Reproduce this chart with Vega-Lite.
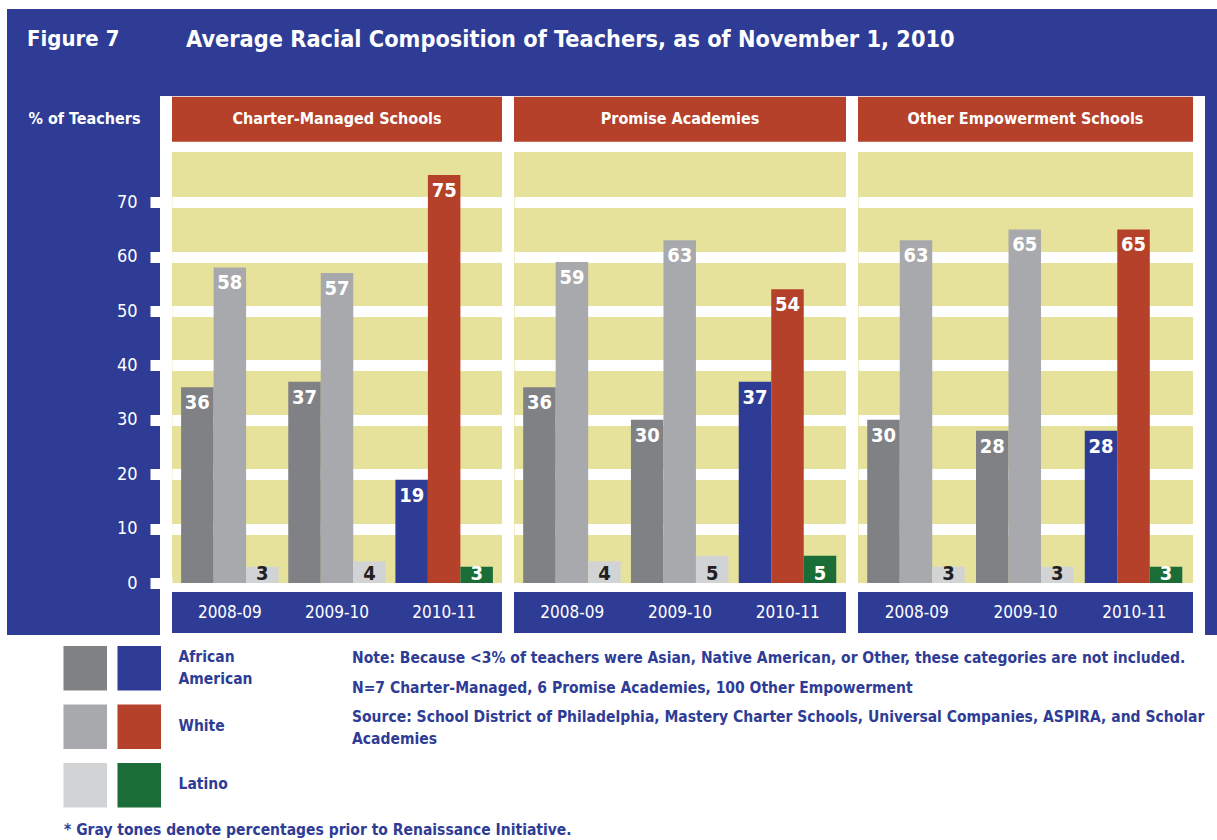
{
  "$schema": "https://vega.github.io/schema/vega-lite/v6.json",
  "background": "white",
  "padding": {"left": 7, "top": 9, "right": 0, "bottom": 0},
  "bounds": "full",
  "spacing": 0,
  "config": {
    "view": {"stroke": null},
    "font": "Liberation Sans Narrow, DejaVu Sans Condensed, sans-serif"
  },
  "datasets": {
    "teachers": [
      {"panel": "Charter-Managed Schools", "year": "2008-09", "period": "Prior", "race": "African American", "value": 36},
      {"panel": "Charter-Managed Schools", "year": "2008-09", "period": "Prior", "race": "White", "value": 58},
      {"panel": "Charter-Managed Schools", "year": "2008-09", "period": "Prior", "race": "Latino", "value": 3},
      {"panel": "Charter-Managed Schools", "year": "2009-10", "period": "Prior", "race": "African American", "value": 37},
      {"panel": "Charter-Managed Schools", "year": "2009-10", "period": "Prior", "race": "White", "value": 57},
      {"panel": "Charter-Managed Schools", "year": "2009-10", "period": "Prior", "race": "Latino", "value": 4},
      {"panel": "Charter-Managed Schools", "year": "2010-11", "period": "Renaissance", "race": "African American", "value": 19},
      {"panel": "Charter-Managed Schools", "year": "2010-11", "period": "Renaissance", "race": "White", "value": 75},
      {"panel": "Charter-Managed Schools", "year": "2010-11", "period": "Renaissance", "race": "Latino", "value": 3},
      {"panel": "Promise Academies", "year": "2008-09", "period": "Prior", "race": "African American", "value": 36},
      {"panel": "Promise Academies", "year": "2008-09", "period": "Prior", "race": "White", "value": 59},
      {"panel": "Promise Academies", "year": "2008-09", "period": "Prior", "race": "Latino", "value": 4},
      {"panel": "Promise Academies", "year": "2009-10", "period": "Prior", "race": "African American", "value": 30},
      {"panel": "Promise Academies", "year": "2009-10", "period": "Prior", "race": "White", "value": 63},
      {"panel": "Promise Academies", "year": "2009-10", "period": "Prior", "race": "Latino", "value": 5},
      {"panel": "Promise Academies", "year": "2010-11", "period": "Renaissance", "race": "African American", "value": 37},
      {"panel": "Promise Academies", "year": "2010-11", "period": "Renaissance", "race": "White", "value": 54},
      {"panel": "Promise Academies", "year": "2010-11", "period": "Renaissance", "race": "Latino", "value": 5},
      {"panel": "Other Empowerment Schools", "year": "2008-09", "period": "Prior", "race": "African American", "value": 30},
      {"panel": "Other Empowerment Schools", "year": "2008-09", "period": "Prior", "race": "White", "value": 63},
      {"panel": "Other Empowerment Schools", "year": "2008-09", "period": "Prior", "race": "Latino", "value": 3},
      {"panel": "Other Empowerment Schools", "year": "2009-10", "period": "Prior", "race": "African American", "value": 28},
      {"panel": "Other Empowerment Schools", "year": "2009-10", "period": "Prior", "race": "White", "value": 65},
      {"panel": "Other Empowerment Schools", "year": "2009-10", "period": "Prior", "race": "Latino", "value": 3},
      {"panel": "Other Empowerment Schools", "year": "2010-11", "period": "Renaissance", "race": "African American", "value": 28},
      {"panel": "Other Empowerment Schools", "year": "2010-11", "period": "Renaissance", "race": "White", "value": 65},
      {"panel": "Other Empowerment Schools", "year": "2010-11", "period": "Renaissance", "race": "Latino", "value": 3}
    ],
    "key": [
      {"race": "African American", "period": "Prior"},
      {"race": "African American", "period": "Renaissance"},
      {"race": "White", "period": "Prior"},
      {"race": "White", "period": "Renaissance"},
      {"race": "Latino", "period": "Prior"},
      {"race": "Latino", "period": "Renaissance"}
    ],
    "notes": [
      {"order": 1, "text": "Note: Because <3% of teachers were Asian, Native American, or Other, these categories are not included."},
      {"order": 2, "text": "N=7 Charter-Managed, 6 Promise Academies, 100 Other Empowerment"},
      {"order": 3, "text": "Source: School District of Philadelphia, Mastery Charter Schools, Universal Companies, ASPIRA, and Scholar\nAcademies"}
    ]
  },
  "vconcat": [
    {
      "bounds": "flush",
      "spacing": 0,
      "hconcat": [
        {
          "width": 179, "height": 87,
          "view": {"fill": "#2E3C96", "stroke": null},
          "title": {"text": "Figure 7", "anchor": "start", "frame": "group", "dx": 20, "offset": -42, "fontSize": 22, "fontWeight": "bold", "color": "white"},
          "data": {"values": [{}]},
          "mark": {"type": "point", "opacity": 0}
        },
        {
          "width": 1031, "height": 87,
          "view": {"fill": "#2E3C96", "stroke": null},
          "title": {"text": "Average Racial Composition of Teachers, as of November 1, 2010", "anchor": "start", "frame": "group", "dx": 0, "offset": -43, "fontSize": 23.3, "fontWeight": "bold", "color": "white"},
          "data": {"values": [{}]},
          "mark": {"type": "point", "opacity": 0}
        }
      ]
    },
    {
      "bounds": "flush",
      "spacing": 12,
      "hconcat": [
        {
          "width": 153, "height": 431,
          "data": {"values": [{}]},
          "mark": {"type": "rect", "color": "#2E3C96"},
          "encoding": {
            "x": {"value": 0}, "x2": {"value": "width"},
            "y": {"datum": 89.52, "type": "quantitative", "scale": {"domain": [0, 79.23], "nice": false, "zero": false}, "axis": null},
            "y2": {"datum": -9.56}
          }
        },
        {
          "width": 330, "height": 431,
          "view": {"fill": "#E6E29B", "stroke": null},
          "data": {"name": "teachers"},
          "transform": [{"filter": "datum.panel === 'Charter-Managed Schools'"}],
          "layer": [
            {
              "transform": [{"aggregate": [{"op": "count", "as": "n"}], "groupby": ["panel"]}],
              "layer": [
                {"mark": {"type": "rect", "color": "#B5412A"}, "encoding": {"x": {"value": 0}, "x2": {"value": "width"}, "y": {"datum": 81.1, "type": "quantitative", "scale": {"domain": [0, 79.23], "nice": false, "zero": false}}, "y2": {"datum": 89.4}}},
                {"mark": {"type": "rect", "color": "#2E3C96"}, "encoding": {"x": {"value": 0}, "x2": {"value": "width"}, "y": {"datum": -1.65, "type": "quantitative", "scale": {"domain": [0, 79.23], "nice": false, "zero": false}}, "y2": {"datum": -9.2}}},
                {"mark": {"type": "text", "color": "white", "fontSize": 16, "fontWeight": "bold", "baseline": "middle"}, "encoding": {"y": {"datum": 85.25, "type": "quantitative", "scale": {"domain": [0, 79.23], "nice": false, "zero": false}}, "text": {"field": "panel"}}}
              ]
            },
            {
              "mark": {"type": "bar"},
              "encoding": {
                "x": {"field": "year", "type": "nominal", "scale": {"paddingInner": 0.09, "paddingOuter": 0.085}, "axis": {"title": null, "domain": false, "ticks": false, "tickSize": 0, "labelAngle": 0, "labelColor": "white", "labelFontSize": 17, "labelPadding": 21, "grid": false, "zindex": 1}},
                "xOffset": {"field": "race", "type": "nominal", "sort": ["African American", "White", "Latino"], "scale": {"paddingInner": 0, "paddingOuter": 0}},
                "y": {"field": "value", "type": "quantitative", "scale": {"domain": [0, 79.23], "nice": false, "zero": false},
                  "axis": {"values": [0, 10, 20, 30, 40, 50, 60, 70], "title": "% of Teachers", "titleAngle": 0, "titleAlign": "left", "titleBaseline": "middle", "titleX": -144, "titleY": -34, "titleColor": "white", "titleFontSize": 16, "titleFontWeight": "bold", "domain": false, "ticks": true, "tickColor": "white", "tickWidth": 11, "tickSize": 22, "labelColor": "white", "labelFontSize": 18, "labelPadding": 13, "labelFlush": false, "labelOverlap": false, "grid": true, "gridColor": "white", "gridWidth": 11, "gridOpacity": {"condition": {"test": "datum.value === 0", "value": 0}, "value": 1}, "zindex": 0}},
                "color": {
                  "condition": [
                    {"test": "datum.period === 'Prior' && datum.race === 'African American'", "value": "#808184"},
                    {"test": "datum.period === 'Prior' && datum.race === 'White'", "value": "#A8A9AC"},
                    {"test": "datum.period === 'Prior' && datum.race === 'Latino'", "value": "#D2D3D5"}
                  ],
                  "field": "race", "type": "nominal", "scale": {"domain": ["African American", "White", "Latino"], "range": ["#2E3C96", "#B5412A", "#1B6D37"]}, "legend": null
                }
              }
            },
            {
              "transform": [{"filter": "datum.value >= 10"}],
              "mark": {"type": "text", "baseline": "top", "dy": 6, "fontSize": 20, "fontWeight": "bold", "color": "white"},
              "encoding": {
                "x": {"field": "year", "type": "nominal"},
                "xOffset": {"field": "race", "type": "nominal", "sort": ["African American", "White", "Latino"]},
                "y": {"field": "value", "type": "quantitative", "scale": {"domain": [0, 79.23], "nice": false, "zero": false}},
                "text": {"field": "value", "type": "quantitative"}
              }
            },
            {
              "transform": [{"filter": "datum.value < 10"}],
              "mark": {"type": "text", "baseline": "alphabetic", "dy": -3, "fontSize": 20, "fontWeight": "bold"},
              "encoding": {
                "x": {"field": "year", "type": "nominal"},
                "xOffset": {"field": "race", "type": "nominal", "sort": ["African American", "White", "Latino"]},
                "y": {"datum": 0, "type": "quantitative", "scale": {"domain": [0, 79.23], "nice": false, "zero": false}},
                "text": {"field": "value", "type": "quantitative"},
                "color": {"condition": {"test": "datum.period === 'Prior'", "value": "#231F20"}, "value": "white"}
              }
            }
          ]
        },
        {
          "width": 332, "height": 431,
          "view": {"fill": "#E6E29B", "stroke": null},
          "data": {"name": "teachers"},
          "transform": [{"filter": "datum.panel === 'Promise Academies'"}],
          "layer": [
            {
              "transform": [{"aggregate": [{"op": "count", "as": "n"}], "groupby": ["panel"]}],
              "layer": [
                {"mark": {"type": "rect", "color": "#B5412A"}, "encoding": {"x": {"value": 0}, "x2": {"value": "width"}, "y": {"datum": 81.1, "type": "quantitative", "scale": {"domain": [0, 79.23], "nice": false, "zero": false}}, "y2": {"datum": 89.4}}},
                {"mark": {"type": "rect", "color": "#2E3C96"}, "encoding": {"x": {"value": 0}, "x2": {"value": "width"}, "y": {"datum": -1.65, "type": "quantitative", "scale": {"domain": [0, 79.23], "nice": false, "zero": false}}, "y2": {"datum": -9.2}}},
                {"mark": {"type": "text", "color": "white", "fontSize": 16, "fontWeight": "bold", "baseline": "middle"}, "encoding": {"y": {"datum": 85.25, "type": "quantitative", "scale": {"domain": [0, 79.23], "nice": false, "zero": false}}, "text": {"field": "panel"}}}
              ]
            },
            {
              "mark": {"type": "bar"},
              "encoding": {
                "x": {"field": "year", "type": "nominal", "scale": {"paddingInner": 0.09, "paddingOuter": 0.085}, "axis": {"title": null, "domain": false, "ticks": false, "tickSize": 0, "labelAngle": 0, "labelColor": "white", "labelFontSize": 17, "labelPadding": 21, "grid": false, "zindex": 1}},
                "xOffset": {"field": "race", "type": "nominal", "sort": ["African American", "White", "Latino"], "scale": {"paddingInner": 0, "paddingOuter": 0}},
                "y": {"field": "value", "type": "quantitative", "scale": {"domain": [0, 79.23], "nice": false, "zero": false},
                  "axis": {"values": [0, 10, 20, 30, 40, 50, 60, 70], "title": null, "domain": false, "ticks": false, "labels": false, "grid": true, "gridColor": "white", "gridWidth": 11, "gridOpacity": {"condition": {"test": "datum.value === 0", "value": 0}, "value": 1}, "zindex": 0}},
                "color": {
                  "condition": [
                    {"test": "datum.period === 'Prior' && datum.race === 'African American'", "value": "#808184"},
                    {"test": "datum.period === 'Prior' && datum.race === 'White'", "value": "#A8A9AC"},
                    {"test": "datum.period === 'Prior' && datum.race === 'Latino'", "value": "#D2D3D5"}
                  ],
                  "field": "race", "type": "nominal", "scale": {"domain": ["African American", "White", "Latino"], "range": ["#2E3C96", "#B5412A", "#1B6D37"]}, "legend": null
                }
              }
            },
            {
              "transform": [{"filter": "datum.value >= 10"}],
              "mark": {"type": "text", "baseline": "top", "dy": 6, "fontSize": 20, "fontWeight": "bold", "color": "white"},
              "encoding": {
                "x": {"field": "year", "type": "nominal"},
                "xOffset": {"field": "race", "type": "nominal", "sort": ["African American", "White", "Latino"]},
                "y": {"field": "value", "type": "quantitative", "scale": {"domain": [0, 79.23], "nice": false, "zero": false}},
                "text": {"field": "value", "type": "quantitative"}
              }
            },
            {
              "transform": [{"filter": "datum.value < 10"}],
              "mark": {"type": "text", "baseline": "alphabetic", "dy": -3, "fontSize": 20, "fontWeight": "bold"},
              "encoding": {
                "x": {"field": "year", "type": "nominal"},
                "xOffset": {"field": "race", "type": "nominal", "sort": ["African American", "White", "Latino"]},
                "y": {"datum": 0, "type": "quantitative", "scale": {"domain": [0, 79.23], "nice": false, "zero": false}},
                "text": {"field": "value", "type": "quantitative"},
                "color": {"condition": {"test": "datum.period === 'Prior'", "value": "#231F20"}, "value": "white"}
              }
            }
          ]
        },
        {
          "width": 335, "height": 431,
          "view": {"fill": "#E6E29B", "stroke": null},
          "data": {"name": "teachers"},
          "transform": [{"filter": "datum.panel === 'Other Empowerment Schools'"}],
          "layer": [
            {
              "transform": [{"aggregate": [{"op": "count", "as": "n"}], "groupby": ["panel"]}],
              "layer": [
                {"mark": {"type": "rect", "color": "#B5412A"}, "encoding": {"x": {"value": 0}, "x2": {"value": "width"}, "y": {"datum": 81.1, "type": "quantitative", "scale": {"domain": [0, 79.23], "nice": false, "zero": false}}, "y2": {"datum": 89.4}}},
                {"mark": {"type": "rect", "color": "#2E3C96"}, "encoding": {"x": {"value": 0}, "x2": {"value": "width"}, "y": {"datum": -1.65, "type": "quantitative", "scale": {"domain": [0, 79.23], "nice": false, "zero": false}}, "y2": {"datum": -9.2}}},
                {"mark": {"type": "text", "color": "white", "fontSize": 16, "fontWeight": "bold", "baseline": "middle"}, "encoding": {"y": {"datum": 85.25, "type": "quantitative", "scale": {"domain": [0, 79.23], "nice": false, "zero": false}}, "text": {"field": "panel"}}}
              ]
            },
            {
              "mark": {"type": "bar"},
              "encoding": {
                "x": {"field": "year", "type": "nominal", "scale": {"paddingInner": 0.09, "paddingOuter": 0.085}, "axis": {"title": null, "domain": false, "ticks": false, "tickSize": 0, "labelAngle": 0, "labelColor": "white", "labelFontSize": 17, "labelPadding": 21, "grid": false, "zindex": 1}},
                "xOffset": {"field": "race", "type": "nominal", "sort": ["African American", "White", "Latino"], "scale": {"paddingInner": 0, "paddingOuter": 0}},
                "y": {"field": "value", "type": "quantitative", "scale": {"domain": [0, 79.23], "nice": false, "zero": false},
                  "axis": {"values": [0, 10, 20, 30, 40, 50, 60, 70], "title": null, "domain": false, "ticks": false, "labels": false, "grid": true, "gridColor": "white", "gridWidth": 11, "gridOpacity": {"condition": {"test": "datum.value === 0", "value": 0}, "value": 1}, "zindex": 0}},
                "color": {
                  "condition": [
                    {"test": "datum.period === 'Prior' && datum.race === 'African American'", "value": "#808184"},
                    {"test": "datum.period === 'Prior' && datum.race === 'White'", "value": "#A8A9AC"},
                    {"test": "datum.period === 'Prior' && datum.race === 'Latino'", "value": "#D2D3D5"}
                  ],
                  "field": "race", "type": "nominal", "scale": {"domain": ["African American", "White", "Latino"], "range": ["#2E3C96", "#B5412A", "#1B6D37"]}, "legend": null
                }
              }
            },
            {
              "transform": [{"filter": "datum.value >= 10"}],
              "mark": {"type": "text", "baseline": "top", "dy": 6, "fontSize": 20, "fontWeight": "bold", "color": "white"},
              "encoding": {
                "x": {"field": "year", "type": "nominal"},
                "xOffset": {"field": "race", "type": "nominal", "sort": ["African American", "White", "Latino"]},
                "y": {"field": "value", "type": "quantitative", "scale": {"domain": [0, 79.23], "nice": false, "zero": false}},
                "text": {"field": "value", "type": "quantitative"}
              }
            },
            {
              "transform": [{"filter": "datum.value < 10"}],
              "mark": {"type": "text", "baseline": "alphabetic", "dy": -3, "fontSize": 20, "fontWeight": "bold"},
              "encoding": {
                "x": {"field": "year", "type": "nominal"},
                "xOffset": {"field": "race", "type": "nominal", "sort": ["African American", "White", "Latino"]},
                "y": {"datum": 0, "type": "quantitative", "scale": {"domain": [0, 79.23], "nice": false, "zero": false}},
                "text": {"field": "value", "type": "quantitative"},
                "color": {"condition": {"test": "datum.period === 'Prior'", "value": "#231F20"}, "value": "white"}
              }
            }
          ]
        },
        {
          "width": 12, "height": 431,
          "data": {"values": [{}]},
          "mark": {"type": "rect", "color": "#2E3C96"},
          "encoding": {
            "x": {"value": 0}, "x2": {"value": "width"},
            "y": {"datum": 89.52, "type": "quantitative", "scale": {"domain": [0, 79.23], "nice": false, "zero": false}, "axis": null},
            "y2": {"datum": -9.56}
          }
        }
      ]
    },
    {
      "bounds": "flush",
      "spacing": 191,
      "hconcat": [
        {
          "width": 154, "height": 171.5,
          "data": {"name": "key"},
          "title": {"text": "* Gray tones denote percentages prior to Renaissance Initiative.", "orient": "bottom", "anchor": "start", "frame": "group", "dx": 57, "offset": 15, "fontSize": 15.5, "fontWeight": "bold", "color": "#2E3C96"},
          "mark": {"type": "rect"},
          "encoding": {
            "x": {"field": "period", "type": "nominal", "sort": ["Prior", "Renaissance"], "scale": {"paddingInner": 0.194, "paddingOuter": 0.523, "align": 1}, "axis": null},
            "y": {"field": "race", "type": "nominal", "sort": ["African American", "White", "Latino"], "scale": {"paddingInner": 0.239, "paddingOuter": 0.0853, "align": 1},
              "axis": {"orient": "right", "title": null, "domain": false, "ticks": false, "labelPadding": 17, "labelColor": "#2E3C96", "labelFontSize": 15.5, "labelFontWeight": "bold", "labelLineHeight": 22, "labelOffset": {"condition": {"test": "datum.value === 'African American'", "value": -11}, "value": -1}, "labelExpr": "datum.value === 'African American' ? ['African', 'American'] : datum.value"}},
            "color": {
              "condition": [
                {"test": "datum.period === 'Prior' && datum.race === 'African American'", "value": "#808184"},
                {"test": "datum.period === 'Prior' && datum.race === 'White'", "value": "#A8A9AC"},
                {"test": "datum.period === 'Prior' && datum.race === 'Latino'", "value": "#D2D3D5"}
              ],
              "field": "race", "type": "nominal", "scale": {"domain": ["African American", "White", "Latino"], "range": ["#2E3C96", "#B5412A", "#1B6D37"]}, "legend": null
            }
          }
        },
        {
          "width": 865, "height": 89.6,
          "data": {"name": "notes"},
          "mark": {"type": "text", "align": "left", "baseline": "top", "fontSize": 15.5, "fontWeight": "bold", "color": "#2E3C96", "lineBreak": "\n", "lineHeight": 22},
          "encoding": {
            "x": {"value": 0},
            "y": {"field": "order", "type": "ordinal", "scale": {"type": "point", "padding": 0.519}, "axis": null},
            "text": {"field": "text"}
          }
        }
      ]
    }
  ]
}
